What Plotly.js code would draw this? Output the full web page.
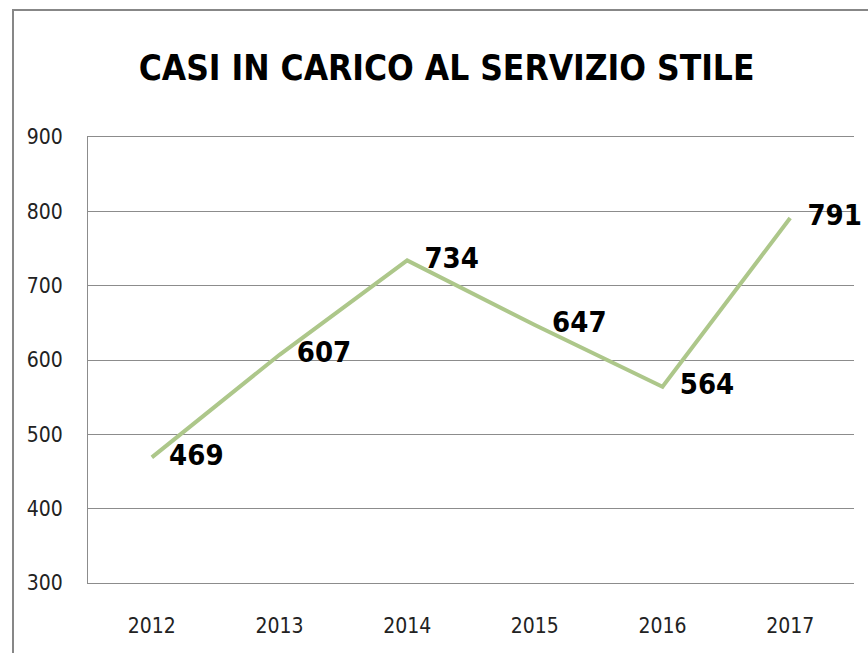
<!DOCTYPE html>
<html>
<head>
<meta charset="utf-8">
<script src="https://cdn.plot.ly/plotly-3.0.1.min.js"></script>
<style>
  html, body { margin: 0; padding: 0; background: #fff; overflow: hidden; }
  #chart {
    position: absolute; left: 12px; top: 9px;
    width: 860px; height: 650px;
    border-left: 2px solid #878787; border-top: 2px solid #878787;
  }
</style>
</head>
<body>
<div id="chart"></div>
<script>
const anni = ['2012', '2013', '2014', '2015', '2016', '2017'];
const casi = [469, 607, 734, 647, 564, 791];
const etichette = casi.map(String);

const fontNarrow = 'DejaVu Sans Condensed, Liberation Sans Narrow, sans-serif';

const trace = {
    x: anni,
    y: casi,
    text: etichette,
    type: 'scatter',
    mode: 'lines+markers+text',
    line: {color: '#adc78a', width: 4},
    marker: {size: 26, color: 'rgba(0,0,0,0)'},
    textposition: 'middle right',
    textfont: {family: fontNarrow, size: 29, color: '#000', weight: 'bold'},
    cliponaxis: false,
    hoverinfo: 'x+y'
};

const layout = {
    width: 860,
    height: 650,
    paper_bgcolor: '#fff',
    plot_bgcolor: '#fff',
    margin: {t: 126, b: 78, l: 74, r: 20},
    title: {
        text: '<b>CASI IN CARICO AL SERVIZIO STILE</b>',
        font: {family: fontNarrow, size: 35, color: '#000'},
        x: 0.503, xref: 'container', xanchor: 'center',
        y: 0.912, yref: 'container', yanchor: 'middle'
    },
    xaxis: {
        type: 'category',
        range: [-0.5, 5.5],
        showgrid: false,
        showline: true,
        mirror: true,
        linecolor: '#8c8c8c',
        linewidth: 1,
        zeroline: false,
        ticks: '',
        tickfont: {family: fontNarrow, size: 21, color: '#222'},
        ticklabelstandoff: 24
    },
    yaxis: {
        range: [300, 900],
        dtick: 100,
        showgrid: true,
        gridcolor: '#8c8c8c',
        gridwidth: 1,
        showline: true,
        linecolor: '#8c8c8c',
        linewidth: 1,
        zeroline: false,
        ticks: '',
        tickfont: {family: fontNarrow, size: 21, color: '#222'},
        ticklabelstandoff: 20
    },
    showlegend: false
};

Plotly.newPlot('chart', [trace], layout, {displayModeBar: false, staticPlot: true});
</script>
</body>
</html>
